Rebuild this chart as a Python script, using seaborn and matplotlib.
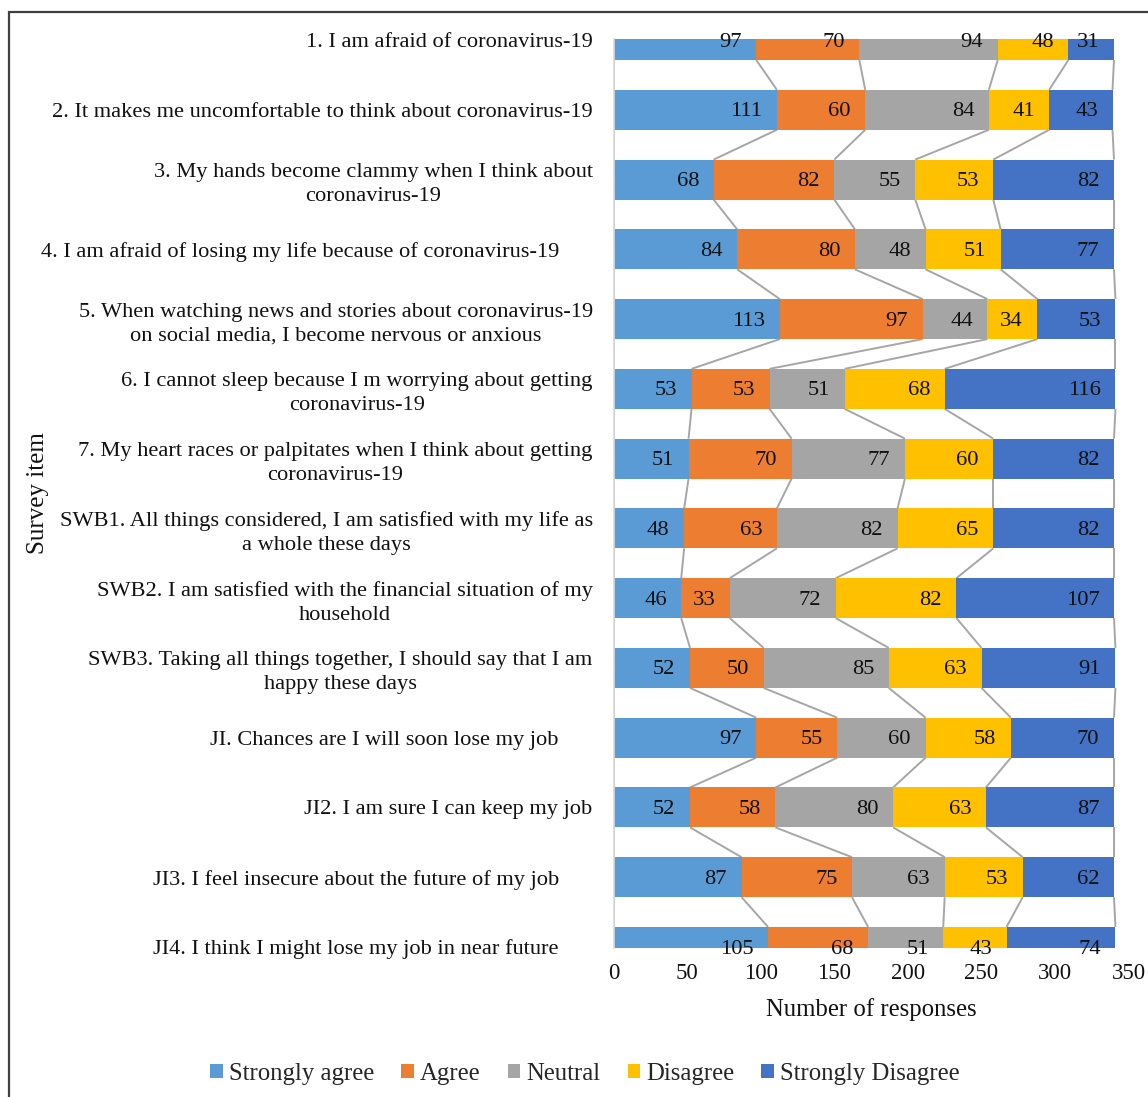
import numpy as np
import pandas as pd
import matplotlib
matplotlib.use("Agg")
import matplotlib.pyplot as plt
from matplotlib.patches import Rectangle, Patch
import seaborn as sns

items = [
    "1. I am afraid of coronavirus-19",
    "2. It makes me uncomfortable to think about coronavirus-19",
    "3. My hands become clammy when I think about\ncoronavirus-19",
    "4. I am afraid of losing my life because of coronavirus-19      ",
    "5. When watching news and stories about coronavirus-19\non social media, I become nervous or anxious",
    "6. I cannot sleep because I m worrying about getting\ncoronavirus-19",
    "7. My heart races or palpitates when I think about getting\ncoronavirus-19",
    "SWB1. All things considered, I am satisfied with my life as\na whole these days",
    "SWB2. I am satisfied with the financial situation of my\nhousehold",
    "SWB3. Taking all things together, I should say that I am\nhappy these days",
    "JI. Chances are I will soon lose my job      ",
    "JI2. I am sure I can keep my job",
    "JI3. I feel insecure about the future of my job      ",
    "JI4. I think I might lose my job in near future      ",
]
series = ["Strongly agree", "Agree", "Neutral", "Disagree", "Strongly Disagree"]
colors = ["#5B9BD5", "#ED7D31", "#A5A5A5", "#FFC000", "#4472C4"]

strongly_agree    = [97, 111, 68, 84, 113, 53, 51, 48, 46, 52, 97, 52, 87, 105]
agree             = [70, 60, 82, 80, 97, 53, 70, 63, 33, 50, 55, 58, 75, 68]
neutral           = [94, 84, 55, 48, 44, 51, 77, 82, 72, 85, 60, 80, 63, 51]
disagree          = [48, 41, 53, 51, 34, 68, 60, 65, 82, 63, 58, 63, 53, 43]
strongly_disagree = [31, 43, 82, 77, 53, 116, 82, 82, 107, 91, 70, 87, 62, 74]

xticks = [0, 50, 100, 150, 200, 250, 300, 350]

values = np.array([strongly_agree, agree, neutral, disagree, strongly_disagree]).T
cum = np.cumsum(values, axis=1)
cum0 = np.hstack([np.zeros((len(items), 1)), cum])

W, H = 1148, 1097
fig = plt.figure(figsize=(W / 100, H / 100), dpi=100)
sns.set_style("white")
plt.rcParams["font.family"] = ["Liberation Serif", "DejaVu Serif"]

ax = fig.add_axes([613.5 / W, 1 - 948 / H, (1128.7 - 613.5) / W, (948 - 39) / H])

bw = 0.573
df = pd.DataFrame({"item": items})
for k in range(len(series) - 1, -1, -1):
    df["cum"] = cum[:, k]
    sns.barplot(data=df, x="cum", y="item", order=items, orient="h",
                color=colors[k], saturation=1, width=bw, errorbar=None,
                ax=ax, linewidth=0, zorder=2)

# series lines
for k in range(cum0.shape[1]):
    for i in range(len(items) - 1):
        ax.plot([cum0[i, k], cum0[i + 1, k]], [i + bw / 2, i + 1 - bw / 2],
                color="#A6A6A6", lw=1.4, zorder=1, solid_capstyle="butt")

# data labels (inside end)
for i in range(len(items)):
    for k in range(len(series)):
        ax.annotate(str(values[i, k]), xy=(cum[i, k], i), xytext=(-10.5, -1.5),
                    textcoords="offset points", ha="right", va="center",
                    fontsize=16.2, color="#111111", zorder=5,
                    annotation_clip=False)

ax.set_xlim(0, 350)
ax.set_ylim(13.015, -0.015)
ax.set_xticks(xticks)
ax.set_xticklabels([str(t) for t in xticks])
ax.tick_params(axis="x", length=0, pad=11, labelsize=16.5, colors="#111111")
ax.tick_params(axis="y", length=0, pad=15, labelsize=16.1, colors="#111111")
for lab in ax.get_yticklabels():
    lab.set_multialignment("center")
    lab.set_linespacing(1.32)

for s in ["top", "right", "bottom"]:
    ax.spines[s].set_visible(False)
ax.spines["left"].set_color("#D9D9D9")
ax.spines["left"].set_linewidth(1.2)

ax.set_xlabel("Number of responses", fontsize=17.8, color="#111111", labelpad=10)
ax.set_ylabel("Survey item", fontsize=18, color="#111111")
ax.yaxis.set_label_coords((49 - 613.5) / (1128.7 - 613.5), 0.5)

handles = [Patch(facecolor=c, edgecolor="none") for c in colors]
fig.legend(handles, series, loc="center", bbox_to_anchor=(585 / W, 1 - 1074 / H),
           ncol=5, frameon=False, fontsize=17.8, handlelength=0.5, handleheight=0.5,
           handletextpad=0.25, columnspacing=1.1)

fig.add_artist(Rectangle((9 / W, -0.05), 1.2, (1 - 12 / H) + 0.05,
                         transform=fig.transFigure, fill=False,
                         edgecolor="#404040", lw=1.6, clip_on=False))

fig.savefig("out.png", dpi=100)
